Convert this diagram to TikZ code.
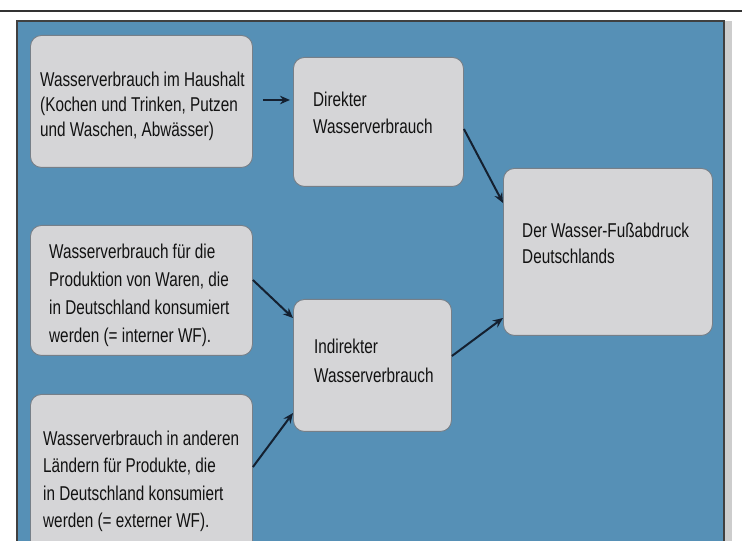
\documentclass[tikz,border=0pt]{standalone}
\usepackage{fontspec}
\setmainfont[FakeStretch=0.765]{Liberation Sans}
\usetikzlibrary{arrows.meta,calc}
\definecolor{bgblue}{RGB}{86,144,182}
\definecolor{boxgray}{RGB}{213,213,215}
\definecolor{boxline}{RGB}{118,127,136}
\definecolor{stripgray}{RGB}{205,205,205}
\definecolor{arrowcol}{RGB}{20,32,48}
\definecolor{txtcol}{RGB}{18,18,18}
\tikzset{
  panelbox/.style={fill=bgblue, draw=black!75, line width=1.3pt},
  grbox/.style={draw=boxline, fill=boxgray, line width=0.9pt, rounded corners=11pt,
    inner sep=0pt, anchor=north west},
  txt/.style={inner sep=0pt, anchor=north west, align=left, text=txtcol},
  arr/.style={draw=arrowcol, line width=2pt, -{Stealth[length=10pt,width=8.5pt]}},
}
\begin{document}
\begin{tikzpicture}[x=1pt,y=1pt]
\useasboundingbox (0,0) rectangle (742,541);
\begin{scope}
\clip (0,0) rectangle (742,541);
\fill[white] (0,0) rectangle (742,541);
\draw[black!80, line width=2.4pt] (0,530.2) -- (742,530.2);
\fill[stripgray] (724,-5) rectangle (732,520);
\draw[panelbox] (17,-5) rectangle (724,520);

\node[grbox, minimum width=222pt, minimum height=132pt] (b1) at (30,506) {};
\node[grbox, minimum width=170pt, minimum height=129pt] (b2) at (293,484) {};
\node[grbox, minimum width=209pt, minimum height=167pt] (b3) at (503,373) {};
\node[grbox, minimum width=222pt, minimum height=130pt] (b4) at (30,316) {};
\node[grbox, minimum width=158pt, minimum height=132pt] (b5) at (293,242) {};
\node[grbox, minimum width=222pt, minimum height=190pt] (b6) at (30,147) {};

\node[txt, font=\fontsize{20}{25}\selectfont] (t1) at (40,469.6)
  {Wasserverbrauch im Haushalt\\(Kochen und Trinken, Putzen\\und Waschen, Abwässer)};
\node[txt, font=\fontsize{20}{27}\selectfont] (t2) at (313,449)
  {Direkter\\Wasserverbrauch};
\node[txt, font=\fontsize{20}{26}\selectfont] (t3) at (522,318.6)
  {Der Wasser-Fußabdruck\\Deutschlands};
\node[txt, font=\fontsize{20}{28}\selectfont] (t4) at (49,297.6)
  {Wasserverbrauch für die\\Produktion von Waren, die\\in Deutschland konsumiert\\werden (= interner WF).};
\node[txt, font=\fontsize{20}{29}\selectfont] (t5) at (314,202.6)
  {Indirekter\\Wasserverbrauch};
\node[txt, font=\fontsize{20}{27.5}\selectfont] (t6) at (43,110.6)
  {Wasserverbrauch in anderen\\Ländern für Produkte, die\\in Deutschland konsumiert\\werden (= externer WF).};

\draw[arr] ($(b1.north east)+(10,-65)$) -- ($(b2.north west)+(-3,-43)$);
\draw[arr] ($(b2.north east)+(0,-72)$) -- ($(b3.north west)+(0,-35)$);
\draw[arr] ($(b4.north east)+(0,-55)$) -- ($(b5.north west)+(0,-19)$);
\draw[arr] ($(b6.north east)+(0,-73)$) -- ($(b5.north west)+(0,-114)$);
\draw[arr] ($(b5.north east)+(0,-57)$) -- ($(b3.north west)+(0,-150)$);
\end{scope}
\end{tikzpicture}
\end{document}
